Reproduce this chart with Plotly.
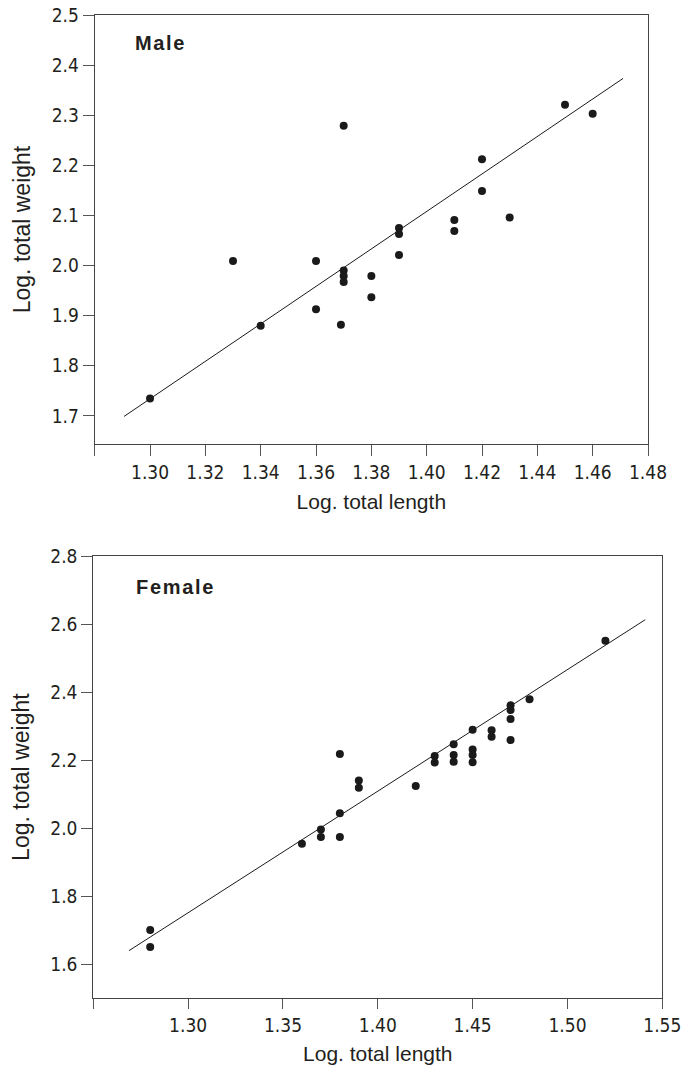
import plotly.graph_objects as go

# ---- Male data ----
male_length = [1.30, 1.33, 1.34, 1.36, 1.36, 1.37, 1.37, 1.37, 1.37, 1.369, 1.38, 1.38,
               1.39, 1.39, 1.39, 1.41, 1.41, 1.42, 1.42, 1.43, 1.45, 1.46]
male_weight = [1.735, 2.009, 1.880, 2.009, 1.913, 2.279, 1.990, 1.979, 1.967, 1.882, 1.979, 1.937,
               2.075, 2.063, 2.021, 2.091, 2.069, 2.212, 2.149, 2.096, 2.321, 2.303]
male_fit_x = [1.2906, 1.471]
male_fit_y = [1.699, 2.3735]

# ---- Female data ----
female_length = [1.28, 1.28, 1.36, 1.37, 1.37, 1.38, 1.38, 1.38, 1.39, 1.39,
                 1.42, 1.43, 1.43, 1.44, 1.44, 1.44, 1.45, 1.45, 1.45, 1.45,
                 1.46, 1.46, 1.47, 1.47, 1.47, 1.47, 1.48, 1.52]
female_weight = [1.701, 1.651, 1.954, 1.996, 1.974, 2.218, 2.044, 1.974, 2.140, 2.119,
                 2.124, 2.212, 2.193, 2.247, 2.215, 2.195, 2.289, 2.231, 2.215, 2.194,
                 2.288, 2.269, 2.361, 2.347, 2.321, 2.259, 2.379, 2.551]
female_fit_x = [1.2688, 1.541]
female_fit_y = [1.640, 2.6127]

male_xticks = [1.28, 1.30, 1.32, 1.34, 1.36, 1.38, 1.40, 1.42, 1.44, 1.46, 1.48]
male_xticktext = ["", "1.30", "1.32", "1.34", "1.36", "1.38", "1.40", "1.42", "1.44", "1.46", "1.48"]
male_yticks = [1.7, 1.8, 1.9, 2.0, 2.1, 2.2, 2.3, 2.4, 2.5]
male_yticktext = ["1.7", "1.8", "1.9", "2.0", "2.1", "2.2", "2.3", "2.4", "2.5"]

female_xticks = [1.25, 1.30, 1.35, 1.40, 1.45, 1.50, 1.55]
female_xticktext = ["", "1.30", "1.35", "1.40", "1.45", "1.50", "1.55"]
female_yticks = [1.6, 1.8, 2.0, 2.2, 2.4, 2.6, 2.8]
female_yticktext = ["1.6", "1.8", "2.0", "2.2", "2.4", "2.6", "2.8"]

W, H = 685, 1065
TXT = "#231f20"
TICKFONT = dict(family="DejaVu Sans Condensed, Liberation Sans Narrow, Liberation Sans, sans-serif",
                size=19, color=TXT)
XTITLEFONT = dict(family="Liberation Sans, Arial, sans-serif", size=21, color=TXT)
YTITLEFONT = dict(family="Liberation Sans, Arial, sans-serif", size=23, color=TXT)

fig = go.Figure()
marker = dict(color="#1a1a1a", size=8)
line = dict(color="#1a1a1a", width=1)

fig.add_trace(go.Scatter(x=male_fit_x, y=male_fit_y, mode="lines", line=line,
                         xaxis="x", yaxis="y", showlegend=False, hoverinfo="skip"))
fig.add_trace(go.Scatter(x=male_length, y=male_weight, mode="markers", marker=marker,
                         xaxis="x", yaxis="y", showlegend=False))
fig.add_trace(go.Scatter(x=female_fit_x, y=female_fit_y, mode="lines", line=line,
                         xaxis="x2", yaxis="y2", showlegend=False, hoverinfo="skip"))
fig.add_trace(go.Scatter(x=female_length, y=female_weight, mode="markers", marker=marker,
                         xaxis="x2", yaxis="y2", showlegend=False))

def px_x(p):
    return p / W

def px_y(p):
    return 1 - p / H

axis_common = dict(showgrid=False, zeroline=False, showline=True, linecolor="#444",
                   linewidth=1, mirror=True, ticks="outside", tickcolor="#555",
                   tickwidth=1, tickfont=TICKFONT, automargin=False,
                   ticklabeloverflow="allow")

fig.update_layout(
    width=W, height=H,
    margin=dict(l=0, r=0, t=0, b=0, autoexpand=False),
    paper_bgcolor="white", plot_bgcolor="white",
    xaxis=dict(domain=[px_x(94.7), px_x(648)], range=[1.28, 1.48], tickvals=male_xticks,
               ticktext=male_xticktext, ticklen=11, anchor="y", title_font=XTITLEFONT,
               title=dict(text="Log. total length", standoff=12), **axis_common),
    yaxis=dict(domain=[px_y(444), px_y(15)], range=[1.644, 2.5], tickvals=male_yticks,
               ticktext=male_yticktext, ticklen=11, anchor="x", title_font=YTITLEFONT,
               title=dict(text="Log. total weight", standoff=14), **axis_common),
    xaxis2=dict(domain=[px_x(93.3), px_x(662.3)], range=[1.25, 1.55], tickvals=female_xticks,
                ticktext=female_xticktext, ticklen=10, anchor="y2", title_font=XTITLEFONT,
                title=dict(text="Log. total length", standoff=12), **axis_common),
    yaxis2=dict(domain=[px_y(998.3), px_y(556)], range=[1.5, 2.8], tickvals=female_yticks,
                ticktext=female_yticktext, ticklen=11, anchor="x2", title_font=YTITLEFONT,
                title=dict(text="Log. total weight", standoff=14), **axis_common),
    annotations=[
        dict(text="<b>M\u200aa\u200al\u200ae</b>", x=px_x(133), y=px_y(43), xref="paper", yref="paper",
             xanchor="left", yanchor="middle", showarrow=False,
             font=dict(family="Liberation Sans, Arial, sans-serif", size=20, color=TXT)),
        dict(text="<b>F\u200ae\u200am\u200aa\u200al\u200ae</b>", x=px_x(134), y=px_y(587), xref="paper", yref="paper",
             xanchor="left", yanchor="middle", showarrow=False,
             font=dict(family="Liberation Sans, Arial, sans-serif", size=20, color=TXT)),
    ],
)

fig.write_html("out.html", config={"displayModeBar": False},
               post_script="document.body.style.margin='0';")
